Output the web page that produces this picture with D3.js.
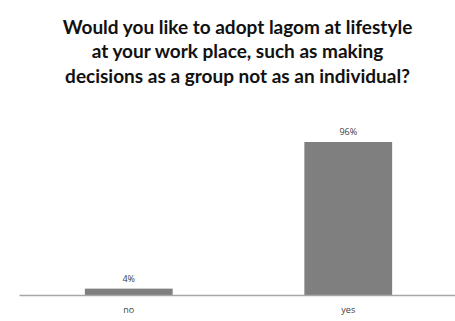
<!DOCTYPE html>
<html>
<head>
<meta charset="utf-8">
<script src="https://cdn.jsdelivr.net/npm/d3@7"></script>
<style>
  html, body { margin: 0; padding: 0; background: #fff; }
  svg { display: block; }
</style>
</head>
<body>
<div id="chart"></div>
<script>
// Survey answers and their shares (percent)
const categories = ["no", "yes"];
const values = [4, 96];
const titleLines = [
  "Would you like to adopt lagom at lifestyle",
  "at your work place, such as making",
  "decisions as a group not as an individual?"
];

const width = 455, height = 321;
const margin = { left: 19, right: -3, bottom: 26 };
const axisY = height - margin.bottom; // baseline of the bars

const svg = d3.select("#chart").append("svg")
  .attr("width", width)
  .attr("height", height);

const x = d3.scaleBand()
  .domain(categories)
  .range([margin.left, width - margin.right])
  .paddingInner(0.6)
  .paddingOuter(0.3);

const y = d3.scaleLinear()
  .domain([0, 100])
  .range([axisY, axisY - 159.4]);

// Title
svg.append("g")
  .selectAll("text")
  .data(titleLines)
  .join("text")
  .attr("x", 237.5)
  .attr("y", (d, i) => 33.5 + i * 24.5)
  .attr("text-anchor", "middle")
  .attr("font-family", "Lato, 'Open Sans', sans-serif")
  .attr("font-weight", "bold")
  .attr("font-size", 19)
  .attr("fill", "#111")
  .text(d => d);

// Bars
svg.append("g")
  .selectAll("rect")
  .data(values)
  .join("rect")
  .attr("x", (d, i) => x(categories[i]))
  .attr("y", d => y(d))
  .attr("width", x.bandwidth())
  .attr("height", d => axisY - y(d))
  .attr("fill", "#7f7f7f");

// Value labels
svg.append("g")
  .selectAll("text")
  .data(values)
  .join("text")
  .attr("x", (d, i) => x(categories[i]) + x.bandwidth() / 2)
  .attr("y", d => y(d) - 7)
  .attr("text-anchor", "middle")
  .attr("font-family", "'Open Sans', sans-serif")
  .attr("font-size", 9)
  .attr("fill", "#404040")
  .text(d => d + "%");

// Category axis
const axis = d3.axisBottom(x).tickSize(0).tickPadding(12);
const gAxis = svg.append("g")
  .attr("transform", `translate(0,${axisY})`)
  .call(axis);
gAxis.select(".domain")
  .attr("stroke", "#a6a6a6")
  .attr("stroke-width", 1.5);
gAxis.selectAll("text")
  .attr("font-family", "'Open Sans', sans-serif")
  .attr("font-size", 9)
  .attr("fill", "#404040");
</script>
</body>
</html>
